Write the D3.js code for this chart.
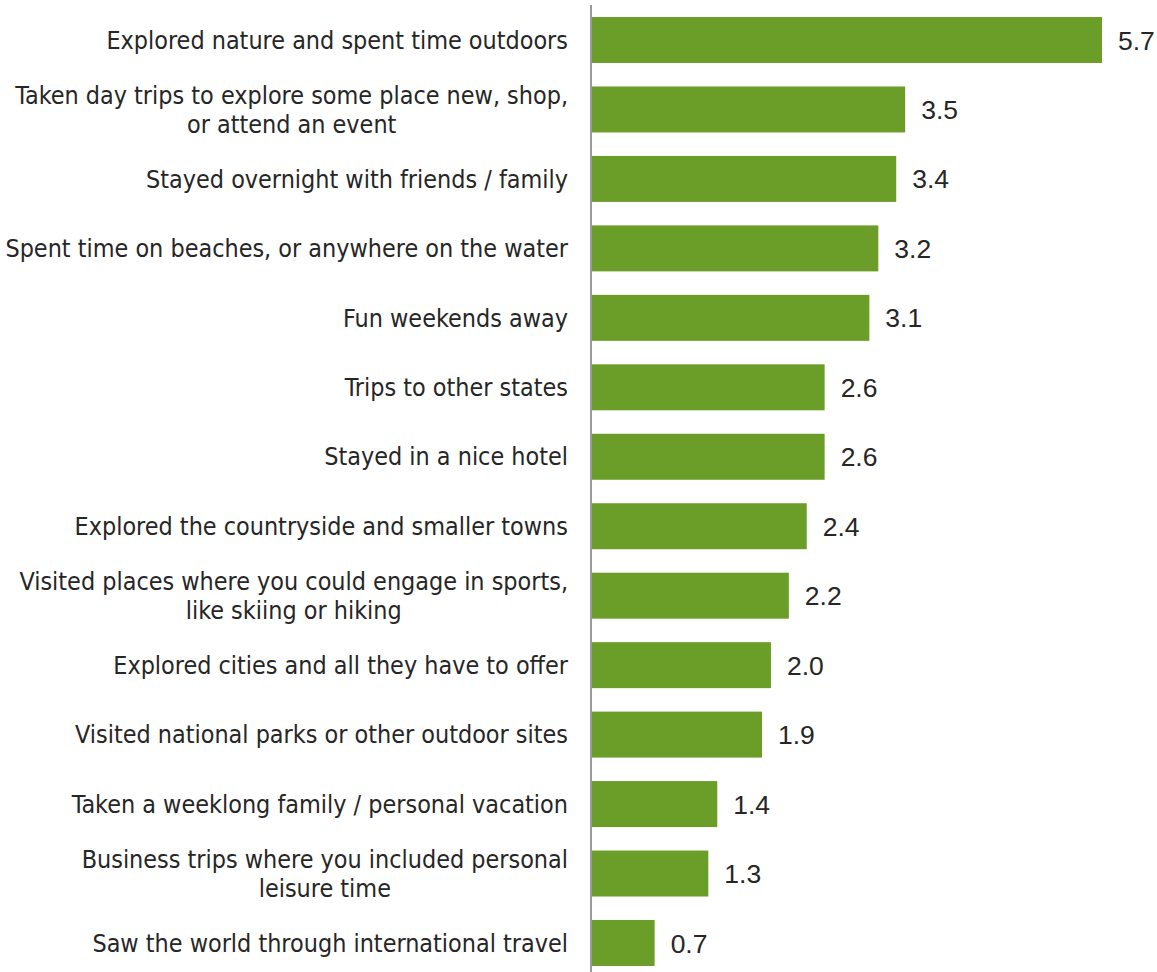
<!DOCTYPE html>
<html>
<head>
<meta charset="utf-8">
<script src="https://cdn.jsdelivr.net/npm/d3@7"></script>
<style>
  html, body { margin: 0; padding: 0; background: #ffffff; }
  svg { display: block; }
</style>
</head>
<body>
<svg id="chart" width="1157" height="972"></svg>
<script>
// Leisure travel activities, average number of times
const categories = [
  ["Explored nature and spent time outdoors"],
  ["Taken day trips to explore some place new, shop,", "or attend an event"],
  ["Stayed overnight with friends / family"],
  ["Spent time on beaches, or anywhere on the water"],
  ["Fun weekends away"],
  ["Trips to other states"],
  ["Stayed in a nice hotel"],
  ["Explored the countryside and smaller towns"],
  ["Visited places where you could engage in sports,", "like skiing or hiking"],
  ["Explored cities and all they have to offer"],
  ["Visited national parks or other outdoor sites"],
  ["Taken a weeklong family / personal vacation"],
  ["Business trips where you included personal", "leisure time"],
  ["Saw the world through international travel"]
];
const values = [5.7, 3.5, 3.4, 3.2, 3.1, 2.6, 2.6, 2.4, 2.2, 2.0, 1.9, 1.4, 1.3, 0.7];
const valueLabels = ["5.7", "3.5", "3.4", "3.2", "3.1", "2.6", "2.6", "2.4", "2.2", "2.0", "1.9", "1.4", "1.3", "0.7"];

const svg = d3.select("#chart");
const axisX = 591;
const plotLeft = 592, plotRight = 1102;
const axisTop = 5, axisBottom = 972;

const idx = d3.range(values.length);

const x = d3.scaleLinear().domain([0, d3.max(values)]).range([plotLeft, plotRight]);
const y = d3.scaleBand().domain(idx).range([0, 983]).paddingInner(0.338).paddingOuter(0.245);

const labelFont = "'DejaVu Sans Condensed', 'Liberation Sans Narrow', sans-serif";
const valueFont = "'Liberation Sans', Arial, sans-serif";

// bars
svg.append("g").selectAll("rect")
  .data(idx)
  .join("rect")
  .attr("x", plotLeft)
  .attr("y", i => y(i))
  .attr("width", i => x(values[i]) - plotLeft)
  .attr("height", y.bandwidth())
  .attr("fill", "#6a9e28");

// category axis line
svg.append("line")
  .attr("x1", axisX).attr("x2", axisX)
  .attr("y1", axisTop).attr("y2", axisBottom)
  .attr("stroke", "#999999")
  .attr("stroke-width", 2);

// value labels
svg.append("g").selectAll("text")
  .data(idx)
  .join("text")
  .attr("x", i => x(values[i]) + 16)
  .attr("y", i => y(i) + y.bandwidth() / 2)
  .attr("dy", "0.36em")
  .attr("font-family", valueFont)
  .attr("font-size", 26.5)
  .attr("fill", "#262626")
  .text(i => valueLabels[i]);

// category labels (one or two lines, centred on each other, right edge against the axis)
const labelRight = 568;
const lineGap = 29;
const catG = svg.append("g");
idx.forEach(i => {
  const lines = categories[i];
  const cy = y(i) + y.bandwidth() / 2;
  const g = catG.append("g");
  const texts = lines.map((ln, k) => g.append("text")
    .attr("y", cy + (k - (lines.length - 1) / 2) * lineGap)
    .attr("dy", "0.35em")
    .attr("font-family", labelFont)
    .attr("font-size", 24.9)
    .attr("fill", "#262626")
    .attr("text-anchor", "middle")
    .text(ln));
  const widest = d3.max(texts, t => t.node().getComputedTextLength());
  texts.forEach(t => t.attr("x", labelRight - widest / 2));
});
</script>
</body>
</html>
